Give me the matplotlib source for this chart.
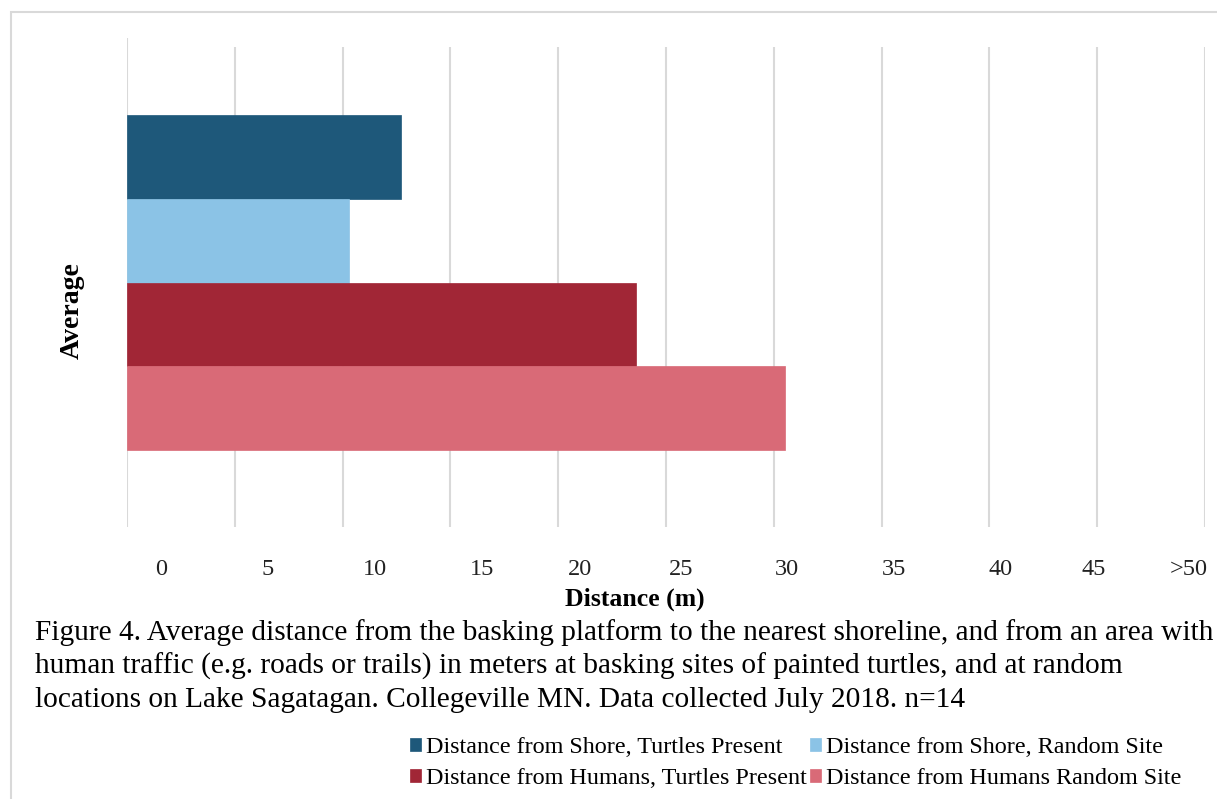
import matplotlib
matplotlib.use("Agg")
import matplotlib.pyplot as plt
from matplotlib.patches import Rectangle

# ---- data ----
category = ["Average"]
series_names = [
    "Distance from Shore, Turtles Present",
    "Distance from Shore, Random Site",
    "Distance from Humans, Turtles Present",
    "Distance from Humans Random Site",
]
series_values = [12.7, 10.3, 23.6, 30.5]
tick_values = [0, 5, 10, 15, 20, 25, 30, 35, 40, 45, 50]
tick_labels = ["0", "5", "10", "15", "20", "25", "30", "35", "40", "45", ">50"]
caption = ("Figure 4. Average distance from the basking platform to the nearest shoreline, and from an area with\n"
           "human traffic (e.g. roads or trails) in meters at basking sites of painted turtles, and at random\n"
           "locations on Lake Sagatagan. Collegeville MN. Data collected July 2018. n=14")

# ---- style ----
colors = ["#1E587A", "#8BC3E6", "#A12636", "#D96A77"]
W, H = 1217, 799
plt.rcParams['font.family'] = ['Liberation Serif', 'DejaVu Serif']

fig = plt.figure(figsize=(W / 100, H / 100), dpi=100)
fx = lambda px: px / W
fy = lambda py: 1 - py / H

# outer border
fig.patches.append(Rectangle((fx(11), -0.05), 1.1, fy(12) + 0.05, transform=fig.transFigure,
                             fill=False, edgecolor="#D9D9D9", linewidth=1.5))

ax_l, ax_r, ax_t, ax_b = 127, 1205, 38, 527
ax = fig.add_axes([fx(ax_l), fy(ax_b), fx(ax_r) - fx(ax_l), fy(ax_t) - fy(ax_b)])
ax.set_xlim(0, 50)
ax.set_ylim(-0.5, 0.5)
for s in ax.spines.values():
    s.set_visible(False)

# gridlines
grid_top = 0.5 - 9 / (ax_b - ax_t)
ax.vlines(tick_values[1:], -0.5, grid_top, colors="#D9D9D9", linewidth=1.5, zorder=0)
ax.axvline(0, color="#D9D9D9", linewidth=1.5, zorder=0)

# bars
bar_h = 0.1713
n = len(series_values)
handles = []
for i, (name, v, c) in enumerate(zip(series_names, series_values, colors)):
    y = ((n - 1) / 2 - i) * bar_h
    b = ax.barh(y, v, height=bar_h, color=c, edgecolor=c, linewidth=0.5, label=name, zorder=2)
    handles.append(b)

# tick labels (offset from gridlines as in source)
label_px = [161, 268, 375, 482, 580, 681, 787, 894, 1001, 1094, 1189]
px_per_unit = (ax_r - ax_l) / 50
ax.set_xticks([(p - ax_l) / px_per_unit for p in label_px])
ax.set_xticklabels(tick_labels, fontsize=17.5, color="#222222")
ax.tick_params(axis="x", length=0, pad=23)
ax.set_yticks([])

fig.text(fx(635), fy(599), "Distance (m)", ha="center", va="center",
         fontsize=18.5, fontweight="bold")
fig.text(fx(72), fy(311), category[0], ha="center", va="center", rotation=90,
         fontsize=20, fontweight="bold")

fig.text(fx(35), fy(619), caption, ha="left", va="top", fontsize=21.2, linespacing=1.33)

order = [0, 2, 1, 3]
leg = fig.legend([handles[i] for i in order], [series_names[i] for i in order],
                 ncol=2, loc="upper left", bbox_to_anchor=(fx(398), fy(725)),
                 frameon=False, fontsize=17.4, handlelength=0.45, handleheight=0.45,
                 handletextpad=0.2, columnspacing=0.15, labelspacing=0.42, borderpad=0)

fig.savefig("out.png", dpi=100)
